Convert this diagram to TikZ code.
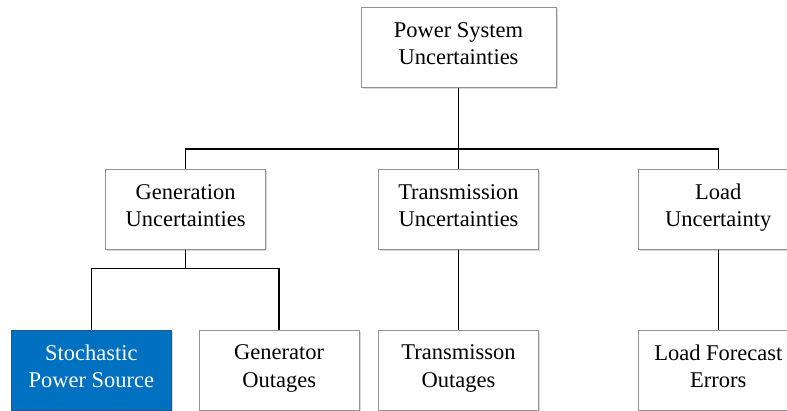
\documentclass[tikz,border=0pt]{standalone}
\usepackage{fontspec}
\setmainfont{Liberation Serif}
\usetikzlibrary{positioning, shadows}

\definecolor{srcblue}{RGB}{0,112,192}
\definecolor{srcedge}{RGB}{40,84,140}

\begin{document}
\begin{tikzpicture}[-,x=1pt,y=-1pt,line width=1.5pt,node distance=80pt,
                    unc node/.style={rectangle,draw=gray!85,line width=0.8pt,fill=white,
                      minimum width=160pt,minimum height=80pt,align=center,
                      font=\fontsize{22.5}{27.3}\selectfont,
                      execute at begin node=\rule{0pt}{24pt},execute at end node=\strut,
                      drop shadow={shadow xshift=1.5pt,shadow yshift=-1.5pt,opacity=0.3}},
                    src node/.style={unc node,fill=srcblue,draw=srcedge,text=white}]

  \useasboundingbox (0,0) rectangle (787,411);

  \node[unc node,minimum width=195pt] (P) at (458.5,47.5) {Power System\\Uncertainties};
  \node[unc node] (T) [below=81pt of P] {Transmission\\Uncertainties};
  \node[unc node] (G) [left=112pt of T] {Generation\\Uncertainties};
  \node[unc node] (L) [right=99pt of T] {Load\\Uncertainty};

  \node[unc node] (TO) [below=80pt of T] {Transmisson\\Outages};
  \node[unc node] (LE) [below=80pt of L] {Load Forecast\\Errors};
  \node[unc node] (GO) [below=80pt of G, xshift=93.5pt] {Generator\\Outages};
  \node[src node] (S) [left=27pt of GO] {Stochastic\\Power Source};

  \coordinate (bar) at ([yshift=20pt]T.north);
  \coordinate (split) at ([yshift=-19pt]G.south);

  \draw (P) -- (T);
  \draw (G) |- (bar) -| (L);
  \draw (G) -- (split);
  \draw (S) |- (split) -| (GO);
  \draw (T) -- (TO);
  \draw (L) -- (LE);

\end{tikzpicture}
\end{document}
